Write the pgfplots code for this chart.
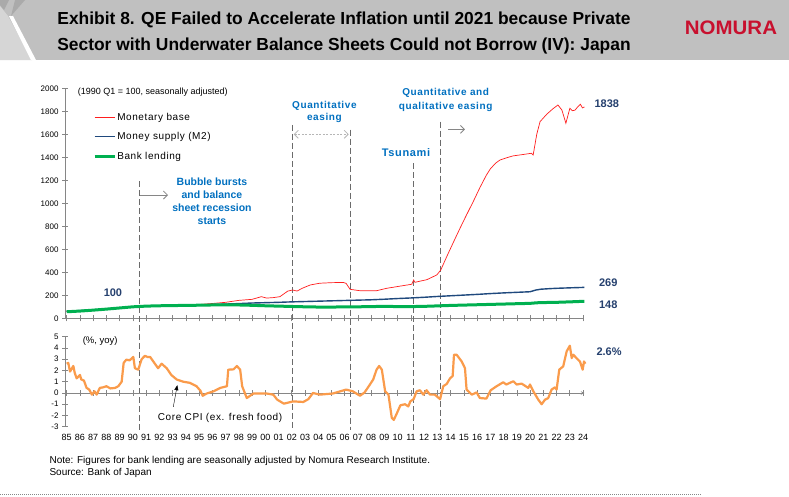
\documentclass[border=0pt]{standalone}
\usepackage{fontspec}
\setmainfont{Liberation Sans}
\newfontfamily\spaced[LetterSpace=6]{Liberation Sans}
\usepackage{pgfplots}
\pgfplotsset{compat=1.18}
\usetikzlibrary{arrows.meta}
\definecolor{bandgray}{RGB}{192,192,192}
\definecolor{bandlight}{RGB}{214,214,214}
\definecolor{banddark}{RGB}{170,170,170}
\definecolor{mbred}{RGB}{255,30,30}
\definecolor{m2blue}{RGB}{31,73,125}
\definecolor{blgreen}{RGB}{0,176,80}
\definecolor{cpiorange}{RGB}{250,155,75}
\definecolor{annblue}{RGB}{0,112,192}
\definecolor{numblue}{RGB}{37,64,110}
\definecolor{axgray}{RGB}{134,134,134}
\definecolor{nomred}{RGB}{200,16,46}
\pgfplotsset{
  base/.style={scale only axis, width=519.4pt, xmin=1984.87, xmax=2024.1, clip=false,
    axis line style={axgray, line width=0.6pt, -},
    tick style={axgray, line width=0.6pt},
    tick align=center, major tick length=6pt,
    /pgf/number format/assume math mode=true,
    /pgf/number format/1000 sep={},
    tick label style={font=\fontsize{8}{9}\selectfont},
  },
}
\tikzset{
  vline/.style={draw=axgray!80!black, line width=1.1pt, dash pattern=on 6pt off 3pt},
  garrow/.style={draw=axgray, line width=0.8pt, -{Straight Barb[length=4pt,width=8pt]}},
}
\begin{document}
\begin{tikzpicture}[x=1pt,y=1pt]
\useasboundingbox (0,0) rectangle (789,-496);
\fill[white] (0,0) rectangle (789,-496);
% title band
\fill[bandgray] (0,0) rectangle (789,-60);
\fill[bandlight] (0,-6) -- (8,-16) -- (32,-60) -- (0,-60) -- cycle;
\fill[banddark] (0,0) -- (9,0) -- (4,-10) -- (0,-5) -- cycle;
\fill[banddark] (15,0) -- (25,0) -- (11,-16) -- cycle;
\fill[white] (9,-16) -- (13,-16) -- (36,-60) -- (31,-60) -- cycle;
\node[font=\bfseries\fontsize{17.4}{26}\selectfont, align=center] at (344,-33)
  {Exhibit 8. QE Failed to Accelerate Inflation until 2021 because Private\\Sector with Underwater Balance Sheets Could not Borrow (IV): Japan};
\node[text=nomred, font=\bfseries\fontsize{19.5}{20}\selectfont] at (731,-27.5) {\scalebox{1.05}[1]{NOMURA}};

% ===== top panel =====
\begin{axis}[base, at={(65pt,-318.3pt)}, anchor=south west, height=230pt,
  ymin=0, ymax=2000, ytick={0,200,...,2000},
  xtick={1985,...,2024}, xticklabels={},
  axis x line*=bottom, axis y line*=left,
  legend style={at={(0.054,0.9)}, anchor=north west, draw=none, fill=none, inner sep=0pt,
    font=\spaced\fontsize{10}{12}\selectfont,
    nodes={inner sep=1pt, text height=7.5pt, text depth=2pt}, row sep=8pt},
  legend cell align=left,
  legend image code/.code={\draw[#1] (0pt,0pt) -- (20pt,0pt);},
]
\draw[vline] (axis cs:1990.5,1190) -- (axis cs:1990.5,-971);
\draw[vline] (axis cs:2002.05,1681) -- (axis cs:2002.05,-971);
\draw[vline] (axis cs:2006.4,1640) -- (axis cs:2006.4,-971);
\draw[vline] (axis cs:2011.2,1350) -- (axis cs:2011.2,-971);
\draw[vline] (axis cs:2013.25,1710) -- (axis cs:2013.25,-971);

\addplot[mbred, line width=0.7pt] coordinates {
(1985,60) (1986,66) (1987,73) (1988,82) (1989,92) (1990,100) (1990.5,103) (1991,104) (1992,105)
(1993,108) (1994,113) (1995,120) (1996,129) (1997,139) (1998,156) (1999,165) (1999.7,188)
(2000.1,176) (2000.6,180) (2001.1,188) (2001.7,237) (2002.07,246) (2002.4,237) (2002.8,262)
(2003.4,290) (2004.1,305) (2005,310) (2005.9,312) (2006.1,304) (2006.4,252) (2007.15,240)
(2008.4,240) (2009.17,261) (2010.4,284) (2011.06,296) (2011.2,333) (2011.3,313) (2012.2,336)
(2012.95,377) (2013.25,420) (2013.7,536) (2014.2,660) (2014.7,782) (2015.2,900) (2015.7,1014)
(2016.2,1135) (2016.7,1246) (2017.0,1300) (2017.4,1350) (2017.73,1377) (2018.2,1395) (2018.7,1412)
(2019.5,1425) (2020.1,1435) (2020.23,1420) (2020.5,1600) (2020.75,1710) (2021.25,1774) (2021.7,1820)
(2022.1,1855) (2022.4,1811) (2022.7,1696) (2023.0,1826) (2023.2,1805) (2023.4,1811) (2023.6,1840)
(2023.8,1861) (2023.95,1830) (2024.1,1838)
};
\addlegendentry{Monetary base}
\addplot[m2blue, line width=1.4pt] coordinates {
(1985,62) (1986,67) (1987,74) (1988,82) (1989,91) (1990,100) (1991,105) (1992,108) (1993,110)
(1994,113) (1995,116) (1996,120) (1997,124) (1998,128) (1999,133) (2000,136) (2001,139)
(2002,143) (2003,146) (2004,149) (2005,152) (2006,155) (2007,158) (2008,161) (2009,166)
(2010,172) (2011,177) (2012,183) (2013,190) (2014,196) (2015,202) (2016,208) (2017,215)
(2018,221) (2019,226) (2020,231) (2020.4,245) (2020.8,253) (2021.5,258) (2022,261) (2023,265) (2024.1,269)
};
\addlegendentry{Money supply (M2)}
\addplot[blgreen, line width=3pt] coordinates {
(1985,57) (1986,63) (1987,71) (1988,80) (1989,90) (1990,100) (1990.5,103) (1991,106) (1992,109)
(1993,111) (1994,112) (1995,114) (1996,116) (1997,117) (1998,116) (1999,113) (2000,109)
(2001,106) (2002,103) (2003,100) (2004,98) (2005,98) (2006,99) (2007,100) (2008,102)
(2009,104) (2010,102) (2011,102) (2012,104) (2013,108) (2014,112) (2015,115) (2016,118)
(2017,121) (2018,124) (2019,127) (2020,130) (2020.5,135) (2021,137) (2022,139) (2023,143) (2024.1,148)
};
\addlegendentry{Bank lending}

% annotations
\node[anchor=west, font=\fontsize{9}{10}\selectfont] at (axis cs:1985.57,1965) {(1990 Q1 = 100, seasonally adjusted)};
\draw[garrow] (axis cs:1990.5,1072) -- (axis cs:1992.65,1072);
\draw[draw=axgray!60, line width=0.8pt, dash pattern=on 2pt off 1.5pt,
  {Straight Barb[length=4pt,width=8pt]}-{Straight Barb[length=4pt,width=8pt]}]
  (axis cs:2002.15,1600) -- (axis cs:2006.3,1600);
\draw[garrow] (axis cs:2013.82,1643) -- (axis cs:2015.08,1643);
\node[text=annblue, font=\bfseries\fontsize{10.5}{13}\selectfont, align=center] at (axis cs:1995.97,1015)
  {Bubble bursts\\and balance\\sheet recession\\starts};
\node[text=annblue, font=\spaced\bfseries\fontsize{10}{12.6}\selectfont, align=center] at (axis cs:2004.46,1794)
  {Quantitative\\easing};
\node[text=annblue, font=\spaced\bfseries\fontsize{11}{13}\selectfont] at (axis cs:2010.63,1443) {Tsunami};
\node[text=annblue, font=\spaced\bfseries\fontsize{10}{13.4}\selectfont, align=center] at (axis cs:2013.62,1898)
  {Quantitative and\\qualitative easing};
\node[text=numblue, font=\bfseries\fontsize{11}{12}\selectfont, anchor=east] at (axis cs:1989.45,226) {100};
\node[text=numblue, font=\bfseries\fontsize{11}{12}\selectfont] at (axis cs:2025.79,1863) {1838};
\node[text=numblue, font=\bfseries\fontsize{11}{12}\selectfont] at (axis cs:2025.9,313) {269};
\node[text=numblue, font=\bfseries\fontsize{11}{12}\selectfont] at (axis cs:2025.9,122) {148};
\end{axis}

% ===== bottom panel: zero line =====
\begin{axis}[base, at={(65pt,-426.7pt)}, anchor=south west, height=90pt,
  ymin=-3, ymax=5, axis x line=middle, axis y line=none,
  xtick={1985,...,2024}, xticklabels={}, ytick=\empty]
\end{axis}

% ===== bottom panel =====
\begin{axis}[base, at={(65pt,-426.7pt)}, anchor=south west, height=90pt,
  ymin=-3, ymax=5, ytick={-3,...,5},
  axis y line*=left, axis x line*=bottom, x axis line style={draw=none},
  xtick={1985,...,2024}, xtick style={draw=none},
  xticklabels={85,86,87,88,89,90,91,92,93,94,95,96,97,98,99,00,01,02,03,04,05,06,07,08,09,10,11,12,13,14,15,16,17,18,19,20,21,22,23,24},
  xticklabel style={font=\fontsize{9}{10}\selectfont, yshift=-1pt},
]
\addplot[cpiorange, line width=2.2pt, line join=round] coordinates {
(1985.0,2.6) (1985.12,2.67) (1985.25,1.9) (1985.5,2.4) (1985.6,1.8) (1985.75,1.3) (1986.0,1.6)
(1986.1,1.2) (1986.3,1.1) (1986.5,0.45) (1986.7,0.3) (1986.9,-0.15) (1987.1,0.15) (1987.26,-0.15)
(1987.5,0.45) (1987.75,0.5) (1988.0,0.6) (1988.3,0.4) (1988.65,0.45) (1988.9,0.6) (1989.15,1.0)
(1989.3,2.67) (1989.5,2.96) (1989.75,2.9) (1990.03,3.2) (1990.15,2.2) (1990.4,2.07) (1990.66,3.0)
(1990.9,3.3) (1991.1,3.2) (1991.3,3.2) (1991.54,2.8) (1991.9,2.2) (1992.17,2.6) (1992.55,2.2)
(1992.9,1.6) (1993.3,1.2) (1993.8,1.0) (1994.3,0.9) (1994.8,0.6) (1995.1,0.2) (1995.27,-0.25)
(1995.57,-0.05) (1996.1,0.15) (1996.6,0.45) (1997.1,0.6) (1997.2,2.07) (1997.6,2.1) (1997.85,2.4)
(1998.1,2.07) (1998.25,0.6) (1998.6,-0.45) (1999.1,-0.05) (2000.1,-0.05) (2000.6,-0.15)
(2000.9,-0.6) (2001.4,-0.95) (2002.1,-0.75) (2002.87,-0.8) (2003.25,-0.55) (2003.6,0.0)
(2004.1,-0.15) (2005.1,-0.05) (2006.1,0.3) (2006.6,0.15) (2007.15,-0.25) (2007.5,0.05)
(2007.9,0.75) (2008.15,1.2) (2008.4,2.07) (2008.6,2.4) (2008.8,2.07) (2009.05,0.15) (2009.3,-0.15)
(2009.55,-2.2) (2009.7,-2.4) (2009.9,-1.9) (2010.2,-1.1) (2010.55,-1.0) (2010.8,-1.2)
(2010.95,-0.75) (2011.2,-0.55) (2011.43,0.15) (2011.68,0.24) (2011.93,-0.15) (2012.18,0.24)
(2012.44,-0.15) (2012.8,-0.15) (2013.2,-0.55) (2013.44,0.6) (2013.7,0.8) (2013.95,1.3)
(2014.15,1.5) (2014.25,3.4) (2014.45,3.4) (2014.83,2.8) (2015.08,2.2) (2015.2,0.3) (2015.6,-0.15)
(2015.96,0.05) (2016.2,-0.45) (2016.7,-0.5) (2017.02,0.24) (2017.47,0.6) (2017.97,0.95)
(2018.2,0.75) (2018.73,1.04) (2018.98,0.75) (2019.36,0.83) (2019.86,0.45) (2019.99,0.75)
(2020.24,0.15) (2020.62,-0.6) (2020.87,-1.0) (2021.12,-0.6) (2021.37,-0.45) (2021.62,0.3)
(2021.87,0.5) (2022.0,0.3) (2022.2,2.07) (2022.5,2.37) (2022.76,3.7) (2023.0,4.2) (2023.14,3.1)
(2023.26,3.4) (2023.5,3.1) (2023.76,2.8) (2023.97,2.07) (2024.07,2.8) (2024.17,2.6)
};
\node[anchor=west, font=\fontsize{9.5}{11}\selectfont] at (axis cs:1985.95,4.57) {(\%, yoy)};
\node[anchor=west, font=\spaced\fontsize{10}{11}\selectfont] at (axis cs:1991.62,-2.19) {Core CPI (ex. fresh food)};
\draw[black, line width=0.4pt, -{Triangle[length=5pt,width=4pt]}] (axis cs:1993.05,-1.24) -- (axis cs:1993.35,0.69);
\node[text=numblue, font=\bfseries\fontsize{11}{12}\selectfont] at (axis cs:2025.96,3.63) {2.6\%};
\end{axis}

% notes
\node[anchor=west, font=\fontsize{10}{12}\selectfont] at (46,-461) {Note: Figures for bank lending are seasonally adjusted by Nomura Research Institute.};
\node[anchor=west, font=\fontsize{10}{12}\selectfont] at (46,-473) {Source: Bank of Japan};
\draw[axgray, line width=0.6pt, dash pattern=on 1pt off 1pt] (0,-494) -- (702,-494);
\end{tikzpicture}
\end{document}
